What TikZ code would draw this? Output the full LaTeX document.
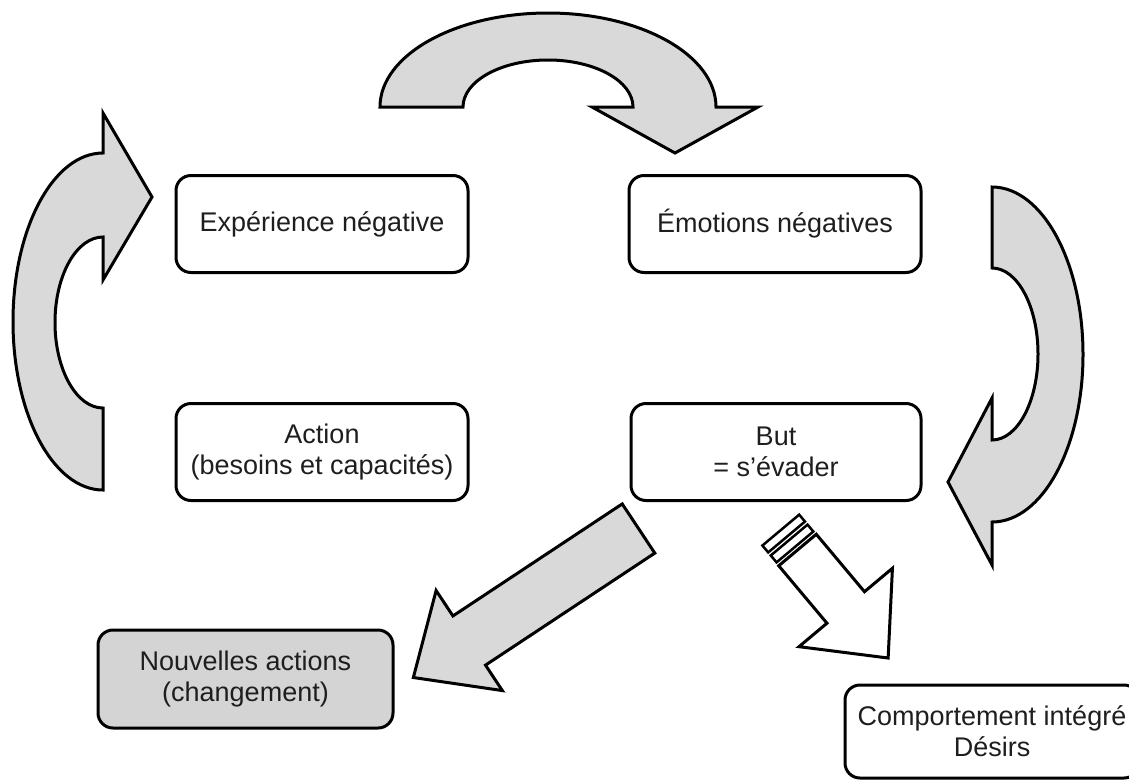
\documentclass[tikz,border=0pt]{standalone}
\usepackage{fontspec}
\setmainfont{Liberation Sans}
\usetikzlibrary{positioning}
\definecolor{arrowgray}{HTML}{D9D9D9}
\definecolor{boxgray}{HTML}{D4D4D4}
\definecolor{txtgray}{HTML}{1E1E1E}

\begin{document}
\begin{tikzpicture}[line cap=round,line join=round,x=1pt,y=-1pt,
  box/.style={draw,line width=3pt,rounded corners=15pt,align=center,
    text=txtgray,font=\fontsize{27}{31}\selectfont,inner sep=0pt},
  blockarrow/.style={draw,line width=3pt,line join=miter,fill=arrowgray}]
\clip (0,0) rectangle (1129,780);
\node [box,minimum width=292pt,minimum height=97pt] (exp) at (322,224) {Expérience négative};
\node [box,minimum width=292pt,minimum height=97pt] (emo) at (775,224) {Émotions négatives};
\node [box,minimum width=292pt,minimum height=97pt] (act) at (322,452) {Action\\(besoins et capacités)};
\node [box,minimum width=290pt,minimum height=97pt] (but) at (776,452) {But\\= s’évader};
\node [box,fill=boxgray,minimum width=295pt,minimum height=98pt] (new) at (245.5,679) {Nouvelles actions\\(changement)};
\node [box,minimum width=294pt,minimum height=93pt] (comp) at (992,731.5) {Comportement intégré\\Désirs};
% curved arrows
\draw [blockarrow] (380,107) arc [start angle=180,end angle=360,x radius=168,y radius=94]
  -- (758,107) -- (675,153) -- (592,107) -- (633,107)
  arc [start angle=0,end angle=-180,x radius=85,y radius=47] -- cycle;
\draw [blockarrow] (103,490) arc [start angle=90,end angle=270,x radius=90,y radius=168.5]
  -- (103,113) -- (152,197) -- (103,280) -- (103,237)
  arc [start angle=270,end angle=90,x radius=48,y radius=85.5] -- cycle;
\draw [blockarrow] (992,187) arc [start angle=-90,end angle=90,x radius=91,y radius=167.5]
  -- (992,565) -- (948,482) -- (992,398) -- (992,440)
  arc [start angle=90,end angle=-90,x radius=46,y radius=86] -- cycle;
% straight arrows
\begin{scope}[shift={(638.5,528.5)},rotate=-146.5]
\draw [blockarrow] (0,-29.5) -- (203,-29.5) -- (203,-60) -- (270,0) -- (203,60) -- (203,29.5) -- (0,29.5) -- cycle;
\end{scope}
\begin{scope}[shift={(797.5,550)},rotate=-50]
\draw [blockarrow,fill=white] (0,-24.5) -- (75,-24.5) -- (75,-61) -- (141,0) -- (75,61) -- (75,24.5) -- (0,24.5) -- cycle;
\draw [blockarrow,fill=white,line width=2.5pt] (-13,-24) rectangle (-4,24);
\draw [blockarrow,fill=white,line width=2.5pt] (-26,-24) rectangle (-17,24);
\end{scope}
\end{tikzpicture}
\end{document}
